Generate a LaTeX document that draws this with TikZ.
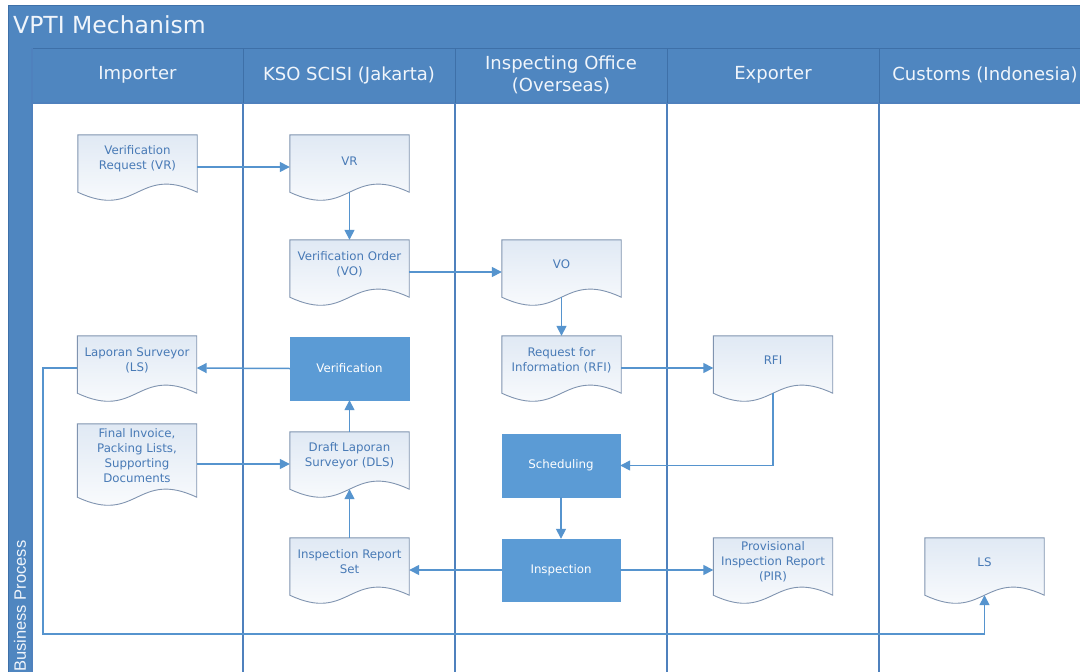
\documentclass[tikz,border=0pt]{standalone}
\usepackage{fontspec}
\setmainfont{DejaVu Sans}
\newfontfamily\arialfont{Liberation Sans}
\usetikzlibrary{arrows.meta}
\definecolor{barblue}{RGB}{79,134,192}
\definecolor{barline}{RGB}{62,112,168}
\definecolor{lanecol}{RGB}{79,129,189}
\definecolor{procblue}{RGB}{91,155,213}
\definecolor{connblue}{RGB}{86,148,206}
\definecolor{docedge}{RGB}{128,148,176}
\definecolor{docfill}{RGB}{224,233,244}
\definecolor{doctxt}{RGB}{72,122,182}
\definecolor{headtxt}{RGB}{240,245,251}
\begin{document}
\begin{tikzpicture}[x=1pt,y=-1pt,
  docbox/.style={rectangle, minimum width=119pt, minimum height=64pt, inner sep=0pt},
  doctext/.style={align=center, text=doctxt, inner sep=0pt, font=\fontsize{11.8}{15}\selectfont},
  docshape/.style={draw=docedge, line width=0.9pt, top color=docfill, bottom color=white},
  proc/.style={rectangle, fill=procblue, draw=procblue, text=white, minimum width=119pt, minimum height=63pt, inner sep=0pt, font=\fontsize{11.8}{15}\selectfont},
  conn/.style={draw=connblue, line width=1.5pt, -{Triangle[length=10pt,width=10pt]}},
  laneline/.style={draw=lanecol, line width=1.3pt},
  headtext/.style={text=headtxt, align=center, font=\fontsize{18}{22}\selectfont},
]
\useasboundingbox (0,0) rectangle (1080,672);
\clip (0,0) rectangle (1080,672);
\fill[white] (0,0) rectangle (1080,672);

% title bar, header row and left strip
\fill[barblue] (8,5) rectangle (1090,48);
\fill[barblue] (32,48) rectangle (1090,103);
\fill[barblue] (8,48) rectangle (32,680);
\draw[barline, line width=1pt] (8,5) -- (1090,5);
\draw[barline, line width=1pt] (8,5) -- (8,680);
\draw[barline, line width=1pt] (32,48) -- (1090,48);
\draw[laneline] (32,103) -- (1090,103);
\draw[laneline] (32,48) -- (32,680);
\foreach \lx in {243,455,667,879}{
  \draw[barline, line width=1pt] (\lx,48) -- (\lx,103);
  \draw[laneline] (\lx,103) -- (\lx,680);
}

\node[anchor=west, text=headtxt, inner sep=0pt, font=\fontsize{23.5}{27}\selectfont] (title) at (13,25) {VPTI Mechanism};
\node[headtext] (h1) at (137.5,75) {Importer};
\node[headtext] (h2) at (349,75) {KSO SCISI (Jakarta)};
\node[headtext] (h3) at (561,75) {Inspecting Office\\(Overseas)};
\node[headtext] (h4) at (773,75) {Exporter};
\node[headtext] (h5) at (985,75) {Customs (Indonesia)};
\node[rotate=90, anchor=west, text=headtxt, inner sep=0pt, font=\arialfont\fontsize{16.5}{18}\selectfont] (bp) at (20,672) {Business Process};

\newcommand{\docshp}[1]{\path[docshape] (#1.north west) -- (#1.north east) -- ([yshift=7pt]#1.south east) .. controls ([yshift=35pt]#1.south) and ([yshift=-21pt]#1.south) .. ([yshift=7pt]#1.south west) -- cycle;}

% document nodes
\node[docbox] (vrq) at (137.5,167) {};
\node[docbox] (vr) at (349.5,167) {};
\node[docbox] (vo) at (349.5,272) {};
\node[docbox] (vo2) at (561.5,272) {};
\node[docbox] (rfi) at (561.5,368) {};
\node[docbox] (rfie) at (773,368) {};
\node[docbox] (ls) at (137,368) {};
\node[docbox, minimum height=80pt] (fin) at (137,464) {};
\node[docbox] (dls) at (349.5,464) {};
\node[docbox] (irs) at (349.5,570) {};
\node[docbox] (pir) at (773,570) {};
\node[docbox] (lsc) at (984.5,570) {};

\foreach \d in {vrq,vr,vo,vo2,rfi,rfie,ls,fin,dls,irs,pir,lsc}{\docshp{\d}}

\node[doctext] (vrq-t) at ([yshift=8pt]vrq.center) {Verification\\Request (VR)};
\node[doctext] (vr-t) at ([yshift=6pt]vr.center) {VR};
\node[doctext] (vo-t) at ([yshift=8pt]vo.center) {Verification Order\\(VO)};
\node[doctext] (vo2-t) at ([yshift=8pt]vo2.center) {VO};
\node[doctext] (rfi-t) at ([yshift=8pt]rfi.center) {Request for\\Information (RFI)};
\node[doctext] (rfie-t) at ([yshift=8pt]rfie.center) {RFI};
\node[doctext] (ls-t) at ([yshift=8pt]ls.center) {Laporan Surveyor\\(LS)};
\node[doctext] (fin-t) at ([yshift=8pt]fin.center) {Final Invoice,\\Packing Lists,\\Supporting\\Documents};
\node[doctext] (dls-t) at ([yshift=8pt]dls.center) {Draft Laporan\\Surveyor (DLS)};
\node[doctext] (irs-t) at ([yshift=8pt]irs.center) {Inspection Report\\Set};
\node[doctext] (pir-t) at ([yshift=8pt]pir.center) {Provisional\\Inspection Report\\(PIR)};
\node[doctext] (lsc-t) at ([yshift=8pt]lsc.center) {LS};

% process nodes
\node[proc] (verif) at (349.5,368.5) {Verification};
\node[proc, minimum width=118pt] (sched) at (561,465.5) {Scheduling};
\node[proc, minimum width=118pt, minimum height=62pt] (insp) at (561,570) {Inspection};

% connectors
\draw[conn] (vrq.east) -- (vr.west);
\draw[conn] ([yshift=7pt]vr.south) -- (vo.north);
\draw[conn] (vo.east) -- (vo2.west);
\draw[conn] ([yshift=7pt]vo2.south) -- (rfi.north);
\draw[conn] (rfi.east) -- (rfie.west);
\draw[conn] ([yshift=7pt]rfie.south) |- (sched.east);
\draw[conn] (sched.south) -- (insp.north);
\draw[conn] (insp.west) -- (irs.east);
\draw[conn] (insp.east) -- (pir.west);
\draw[conn] (irs.north) -- ([yshift=7pt]dls.south);
\draw[conn] (dls.north) -- (verif.south);
\draw[conn] (verif.west) -- (ls.east);
\draw[conn] (fin.east) -- (dls.west);
\coordinate (c1) at (43,634);
\draw[conn] (ls.west) -| (c1) -| ([yshift=7pt]lsc.south);
\end{tikzpicture}
\end{document}
